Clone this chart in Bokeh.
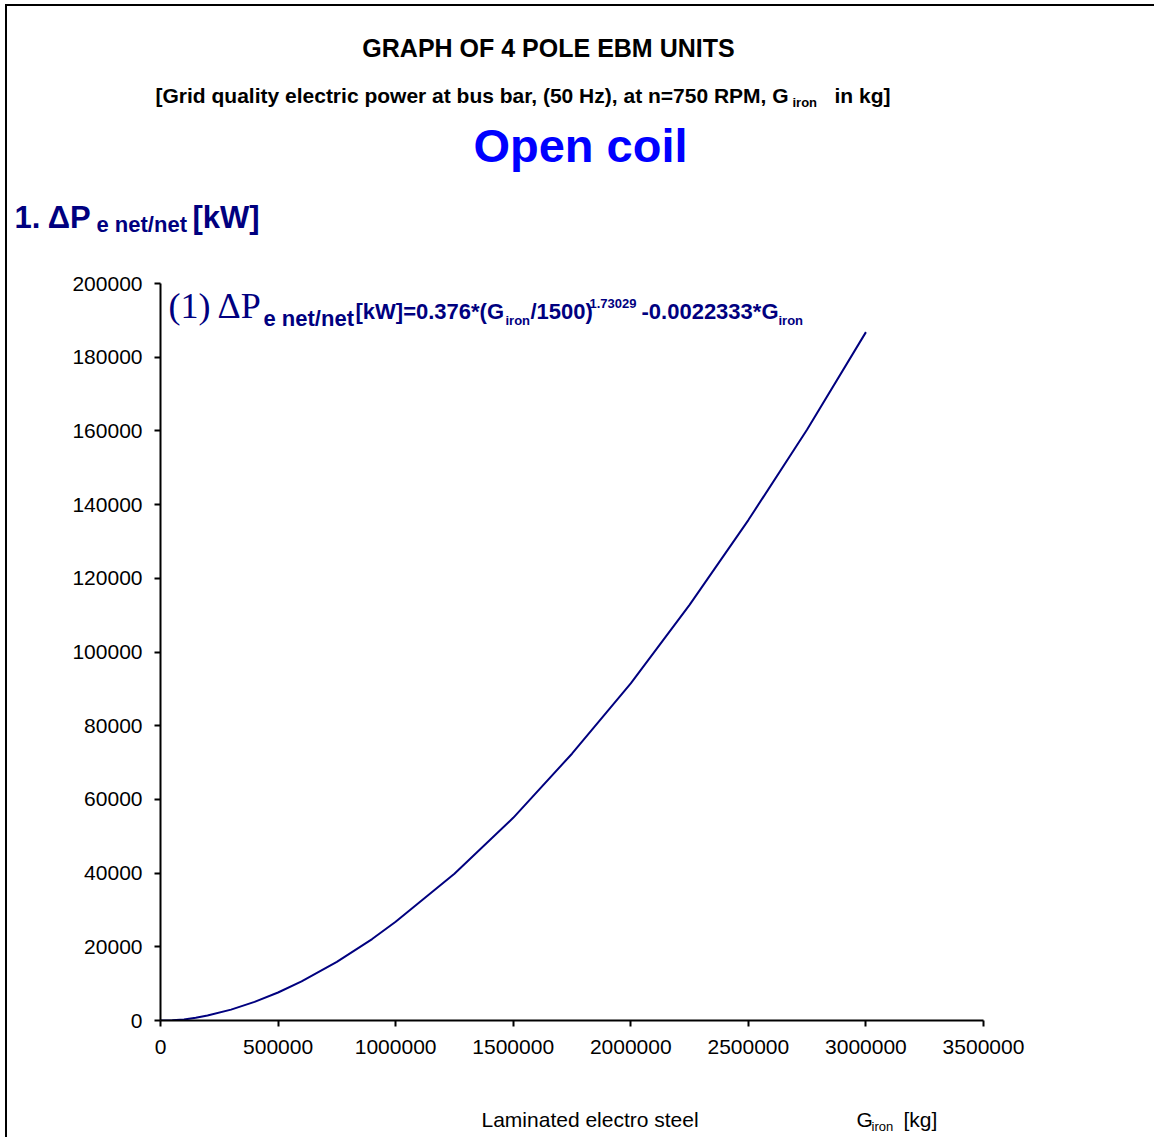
from bokeh.plotting import figure
from bokeh.models import Range1d, FixedTicker, Label
from bokeh.embed import file_html
from bokeh.resources import INLINE

# ---- data ----
g_iron = [0, 50000, 100000, 150000, 200000, 300000, 400000, 500000, 600000, 750000,
          900000, 1000000, 1250000, 1500000, 1750000, 2000000, 2250000, 2500000,
          2750000, 3000000]
dp_net = [0, 50, 300, 750, 1350, 2950, 5050, 7600, 10600, 15900,
          22100, 26800, 39800, 55000, 72400, 91500, 112800, 135800,
          160400, 186800]

x_ticks = [0, 500000, 1000000, 1500000, 2000000, 2500000, 3000000, 3500000]
y_ticks = [0, 20000, 40000, 60000, 80000, 100000, 120000, 140000, 160000, 180000, 200000]
x_tick_labels = {t: str(t) for t in x_ticks}
y_tick_labels = {t: str(t) for t in y_ticks}

NAVY = "#00007f"
BLUE = "#0000ff"

# ---- layout (page pixel positions) ----
W = 1149
CX, CY = 7, 6                          # page position of the content
TOP_END, MAIN_END, BOT_END = 263, 1076, 1139
FL, FT, FR, FB = 160, 285, 983, 1022   # plot frame edges on the page


def blank(h):
    f = figure(width=W, height=h, output_backend="svg", toolbar_location=None,
               x_axis_location=None, y_axis_location=None, title=None,
               x_range=Range1d(0, W), y_range=Range1d(0, h),
               min_border=0, min_border_left=0, min_border_right=0,
               min_border_top=0, min_border_bottom=0)
    f.outline_line_color = None
    f.background_fill_color = "white"
    f.border_fill_color = "white"
    for g in f.grid:
        g.visible = False
    return f


top = blank(TOP_END - CY)
bot = blank(BOT_END - MAIN_END)

p = figure(width=W, height=MAIN_END - TOP_END, output_backend="svg", toolbar_location=None,
           x_range=Range1d(0, 3500000), y_range=Range1d(0, 200000),
           min_border_left=FL - CX, min_border_top=FT - TOP_END,
           min_border_right=CX + W - FR, min_border_bottom=MAIN_END - FB)
p.outline_line_color = None
p.xgrid.visible = False
p.ygrid.visible = False
p.background_fill_color = "white"
p.border_fill_color = "white"

for ax in (p.xaxis[0], p.yaxis[0]):
    ax.axis_line_color = "black"
    ax.axis_line_width = 2
    ax.major_tick_line_color = "black"
    ax.major_tick_line_width = 2
    ax.major_tick_out = 6
    ax.major_tick_in = 0
    ax.minor_tick_line_color = None
    ax.major_label_text_font = "Liberation Sans"
    ax.major_label_text_font_size = "21px"
    ax.major_label_text_color = "black"

p.xaxis.ticker = FixedTicker(ticks=x_ticks)
p.yaxis.ticker = FixedTicker(ticks=y_ticks)
p.xaxis.major_label_overrides = x_tick_labels
p.yaxis.major_label_overrides = y_tick_labels
p.xaxis.major_label_standoff = 13
p.yaxis.major_label_standoff = 12

p.line(g_iron, dp_net, line_color=NAVY, line_width=2)


def lab(fig, left, bottom, text, px, py, size, color="black", bold=False,
        font="Liberation Sans", align="left"):
    py = py - 0.4 * size   # baseline correction
    fig.add_layout(Label(x=px - left, y=bottom - py, x_units="screen", y_units="screen",
                         text=text, text_font=font, text_font_size=f"{size}px",
                         text_font_style="bold" if bold else "normal",
                         text_color=color, text_align=align, text_baseline="alphabetic"))


def T(*a, **k):
    lab(top, CX, TOP_END, *a, **k)


def M(*a, **k):
    lab(p, FL, FB, *a, **k)


def B(*a, **k):
    lab(bot, CX, BOT_END, *a, **k)


# titles
T("GRAPH OF 4 POLE EBM UNITS", 548, 57, 25, bold=True, align="center")
T("[Grid quality electric power at bus bar, (50 Hz), at n=750 RPM, G", 155, 103, 21, bold=True)
T("iron", 792, 107, 13, bold=True)
T("in kg]", 834, 103, 21, bold=True)
T("Open coil", 580, 164, 47, color=BLUE, bold=True, align="center")

# section heading
T("1. \u0394P", 14, 229, 31, color=NAVY, bold=True)
T("e net/net", 96, 233, 22, color=NAVY, bold=True)
T("[kW]", 192, 229, 31, color=NAVY, bold=True)

# equation
M("(1) \u0394P", 168, 322, 36, color=NAVY, font="Liberation Serif")
M("e net/net", 263, 329, 22, color=NAVY, bold=True)
M("[kW]=0.376*(G", 355, 322, 22, color=NAVY, bold=True)
M("iron", 505, 327, 13, color=NAVY, bold=True)
M("/1500)", 530, 322, 22, color=NAVY, bold=True)
M("1.73029", 589, 310, 13, color=NAVY, bold=True)
M("-0.0022333*G", 641, 322, 22, color=NAVY, bold=True)
M("iron", 778, 327, 13, color=NAVY, bold=True)

# axis captions
B("Laminated electro steel", 481, 1129, 21)
B("G", 856, 1129, 21)
B("iron", 871, 1133, 13)
B("[kg]", 903, 1129, 21)

edge = {"border-left": "2px solid black", "margin-left": "5px"}
top.styles = dict(edge, **{"border-top": "2px solid black", "margin-top": "4px"})
p.styles = dict(edge)
bot.styles = dict(edge)

open("out.html", "w").write(file_html([top, p, bot], INLINE))
